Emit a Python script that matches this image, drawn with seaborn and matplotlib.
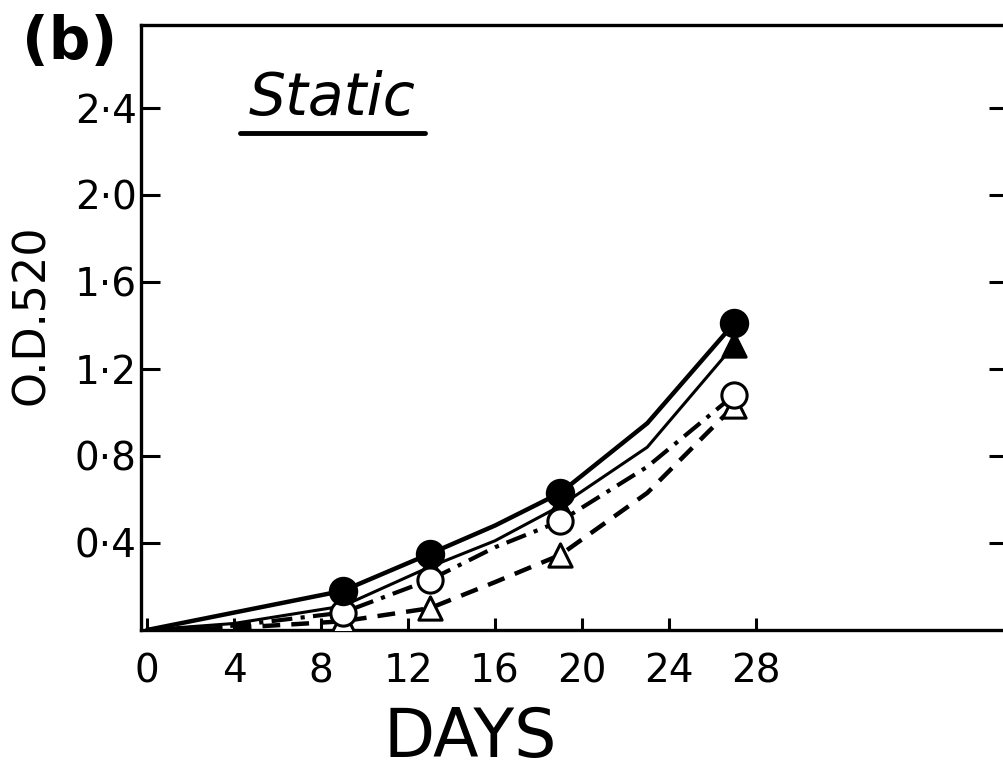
import numpy as np
import pandas as pd
import matplotlib.pyplot as plt
import seaborn as sns
from matplotlib.lines import Line2D

# measured days (markers)
days = [9, 13, 19, 27]
od_filled_circle = [0.18, 0.35, 0.63, 1.41]
od_filled_triangle = [0.11, 0.29, 0.57, 1.31]
od_open_circle = [0.08, 0.23, 0.50, 1.08]
od_open_triangle = [0.04, 0.10, 0.345, 1.03]

# curve traces
curve_days = [0, 4, 9, 13, 16, 19, 23, 27]
curve_filled_circle = [0.0, 0.08, 0.18, 0.35, 0.48, 0.63, 0.95, 1.41]
curve_filled_triangle = [0.0, 0.03, 0.11, 0.29, 0.41, 0.57, 0.84, 1.31]
curve_open_circle = [0.0, 0.02, 0.08, 0.23, 0.38, 0.50, 0.75, 1.08]
curve_open_triangle = [0.0, 0.01, 0.04, 0.10, 0.22, 0.345, 0.63, 1.03]

y_ticks = [0.4, 0.8, 1.2, 1.6, 2.0, 2.4]
y_tick_labels = ["0·4", "0·8", "1·2", "1·6", "2·0", "2·4"]
x_ticks = [0, 4, 8, 12, 16, 20, 24, 28]
x_tick_labels = ["0", "4", "8", "12", "16", "20", "24", "28"]

sns.set_theme(style="ticks")
plt.rcParams['font.family'] = ['DejaVu Sans']
plt.rcParams['text.color'] = 'black'

fig = plt.figure(figsize=(10.04, 7.74), dpi=100)
# axes runs past the right edge, as in the cropped original
ax = fig.add_axes([141 / 1004, 1 - 630 / 774, (1008 - 141) / 1004, (630 - 25) / 774])

line_specs = [
    (curve_filled_circle, "-", 3.2),
    (curve_filled_triangle, "-", 2.2),
    (curve_open_circle, (0, (5, 2, 1, 2)), 3.0),
    (curve_open_triangle, (0, (4, 2.5)), 3.2),
]
for vals, ls, lw in line_specs:
    sns.lineplot(x=curve_days, y=vals, ax=ax, color="black", linestyle=ls,
                 linewidth=lw, estimator=None, sort=False)

marker_specs = [
    (od_open_triangle, "^", "white", 280),
    (od_filled_triangle, "^", "black", 280),
    (od_open_circle, "o", "white", 330),
    (od_filled_circle, "o", "black", 360),
]
for vals, m, fc, s in marker_specs:
    sns.scatterplot(x=days, y=vals, ax=ax, marker=m, color=fc, edgecolor="black",
                    linewidth=2.2, s=s, zorder=5)

ax.set_xlim((141 - 147) / 21.75, (1008 - 147) / 21.75)
ax.set_ylim(0, 2.78)
ax.set_xticks(x_ticks)
ax.set_xticklabels(x_tick_labels, fontsize=28)
ax.set_yticks(y_ticks)
ax.set_yticklabels(y_tick_labels, fontsize=28)
ax.tick_params(axis="y", direction="in", length=14, width=2.2, left=True, right=True,
               pad=3, colors="black")
ax.tick_params(axis="x", direction="in", length=9, width=2.2, pad=16, colors="black")

for sp in ax.spines.values():
    sp.set_linewidth(2.4)
    sp.set_color("black")

ax.set_xlabel("")
ax.set_ylabel("")
fig.text(32 / 1004, 1 - 315 / 774, "O.D.520", rotation=90, fontsize=32,
         ha="center", va="center", color="black")
fig.text(470 / 1004, 1 - 738 / 774, "DAYS", fontsize=48, ha="center", va="center",
         color="black")
fig.text(70 / 1004, 1 - 42 / 774, "(b)", fontsize=42, fontweight="heavy",
         ha="center", va="center", color="black")
fig.text(332 / 1004, 1 - 98 / 774, "Static", fontsize=42, fontstyle="italic",
         ha="center", va="center", color="black")
fig.add_artist(Line2D([240 / 1004, 425 / 1004], [1 - 133 / 774, 1 - 133 / 774],
                      color="black", linewidth=3.5, transform=fig.transFigure))

fig.savefig("out.png", dpi=100, facecolor="white")
